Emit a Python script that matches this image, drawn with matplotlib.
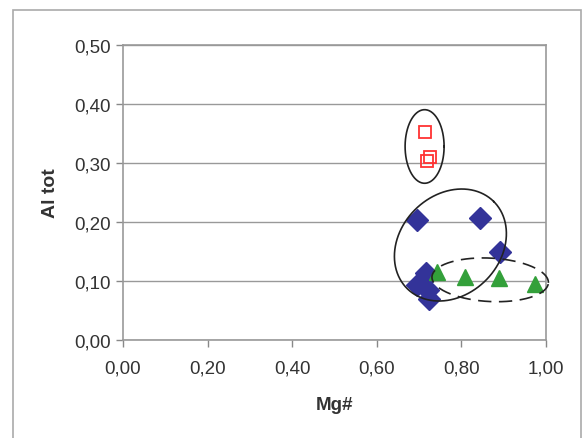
import numpy as np
import matplotlib.pyplot as plt
from matplotlib.patches import Rectangle

plt.rcParams['font.family'] = ['Liberation Sans', 'DejaVu Sans']

# data
red_x = [0.714, 0.726, 0.718]
red_y = [0.353, 0.310, 0.304]

blue_x = [0.694, 0.845, 0.891, 0.717, 0.694, 0.708, 0.722, 0.724]
blue_y = [0.203, 0.207, 0.150, 0.113, 0.093, 0.100, 0.085, 0.070]

green_x = [0.742, 0.808, 0.889, 0.974]
green_y = [0.116, 0.106, 0.105, 0.095]

x_ticks = [0.0, 0.2, 0.4, 0.6, 0.8, 1.0]
y_ticks = [0.0, 0.1, 0.2, 0.3, 0.4, 0.5]

# group outlines: centre (data), semi-axes (px), tilt (deg), style
groups = [
    ((0.713, 0.328), 19.5, 36.8, 0, '-'),
    ((0.774, 0.161), 61.4, 50.0, 45, '-'),
    ((0.868, 0.102), 58.3, 21.7, -3, (0, (8, 4.5))),
]

fig = plt.figure(figsize=(5.84, 4.39), dpi=100)
ax = fig.add_axes([123 / 584, 1 - 341 / 439, 423 / 584, 295 / 439])

ax.plot(red_x, red_y, 's', ms=9, mfc='none', mec='#ff3333', mew=1.3, zorder=3)
ax.plot(blue_x, blue_y, 'D', ms=11, color='#333399', zorder=3)
ax.plot(green_x, green_y, '^', ms=12, color='#33a03a', zorder=3)

ax.set_xlim(0, 1)
ax.set_ylim(0, 0.5)

# pixels per data unit, to draw the outlines round in screen space
sx, sy = 423.0, 590.0
t = np.linspace(0, 2 * np.pi, 200)
for (cx, cy), a, b, ang, ls in groups:
    th = np.radians(ang)
    px = a * np.cos(t) * np.cos(th) - b * np.sin(t) * np.sin(th)
    py = a * np.cos(t) * np.sin(th) + b * np.sin(t) * np.cos(th)
    ax.plot(cx + px / sx, cy + py / sy, color='#222222', lw=1.2, ls=ls,
            clip_on=False, zorder=4)

ax.set_xticks(x_ticks)
ax.set_yticks(y_ticks)
ax.set_xticklabels([f'{v:.2f}'.replace('.', ',') for v in x_ticks])
ax.set_yticklabels([f'{v:.2f}'.replace('.', ',') for v in y_ticks])
ax.tick_params(direction='out', length=5, width=1, color='#888888',
               labelsize=13.5, labelcolor='#333333', pad=4)
ax.tick_params(axis='x', pad=9)
ax.grid(axis='y', color='#999999', lw=1)
ax.set_axisbelow(True)
for s in ax.spines.values():
    s.set_color('#999999')
    s.set_linewidth(1.2)

ax.set_xlabel('Mg#', fontsize=13.5, fontweight='bold', color='#333333', labelpad=14)
ax.set_ylabel('Al tot', fontsize=14, fontweight='bold', color='#333333', labelpad=11)

fig.patches.append(Rectangle((13 / 584, -0.05), 568 / 584, 1.05 - 11 / 439,
                             transform=fig.transFigure, fill=False,
                             edgecolor='#aaaaaa', lw=1.2))

fig.savefig('out.png', dpi=100)
